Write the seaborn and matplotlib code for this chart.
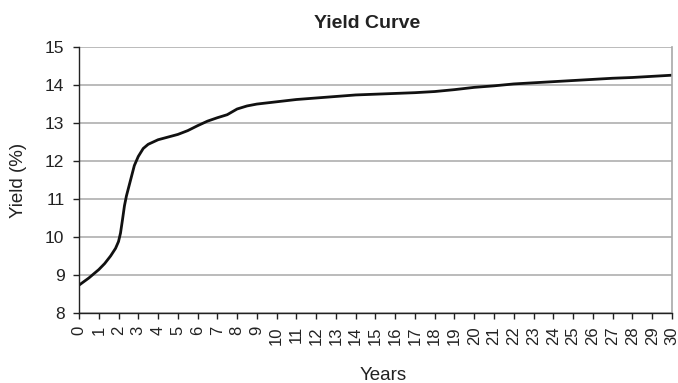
import matplotlib.pyplot as plt
import pandas as pd
import seaborn as sns

# yield curve (years -> yield %)
years = [0, 0.5, 1, 1.3, 1.6, 1.85, 2.0, 2.1, 2.2, 2.3, 2.4, 2.5, 2.65, 2.8,
         3.0, 3.25, 3.5, 4, 4.5, 5, 5.5, 6, 6.5, 7, 7.5, 8, 8.5, 9, 10, 11,
         12, 13, 14, 15, 16, 17, 18, 19, 20, 21, 22, 23, 24, 25, 26, 27, 28,
         29, 30]
yields = [8.73, 8.92, 9.14, 9.3, 9.5, 9.7, 9.88, 10.1, 10.45, 10.82, 11.08,
          11.28, 11.58, 11.88, 12.12, 12.33, 12.44, 12.56, 12.63, 12.7, 12.8,
          12.93, 13.05, 13.14, 13.22, 13.37, 13.45, 13.5, 13.56, 13.62, 13.66,
          13.7, 13.74, 13.76, 13.78, 13.8, 13.83, 13.88, 13.94, 13.98, 14.03,
          14.06, 14.09, 14.12, 14.15, 14.18, 14.2, 14.23, 14.26]
year_ticks = list(range(0, 31))
yield_ticks = list(range(8, 16))

df = pd.DataFrame({"Years": years, "Yield": yields})

sns.set_theme(style="white")
plt.rcParams['font.family'] = ['Liberation Sans', 'DejaVu Sans']

fig = plt.figure(figsize=(6.78, 3.83), dpi=100)
ax = fig.add_axes([0.1165, 0.183, 0.8745, 0.694])

ax.set_xlim(0, 30)
ax.set_ylim(8, 15)
ax.set_yticks(yield_ticks)
ax.set_xticks(year_ticks)
ax.set_xticklabels([str(t) for t in year_ticks], rotation=90)
ax.yaxis.grid(True, color="#a8a8a8", linewidth=1.1)
ax.set_axisbelow(True)

sns.lineplot(ax=ax, data=df, x="Years", y="Yield", color="#111111", linewidth=2)

for side in ("left", "bottom"):
    ax.spines[side].set_color("#222222")
    ax.spines[side].set_linewidth(1)
ax.spines["top"].set_visible(False)
ax.spines["right"].set_color("#a8a8a8")
ax.spines["right"].set_linewidth(1.2)

ax.tick_params(axis="both", direction="out", length=4.5, width=1, color="#222222",
               labelcolor="#222222")
ax.tick_params(axis="x", bottom=True, pad=5, labelsize=12)
ax.tick_params(axis="y", left=True, pad=6, labelsize=12.5)

ax.set_xlabel("Years", fontsize=13.5, color="#222222")
ax.xaxis.set_label_coords(0.513, -0.205)
ax.set_ylabel("Yield (%)", fontsize=13.5, color="#222222")
ax.yaxis.set_label_coords(-0.088, 0.5)
ax.set_title("Yield Curve", fontsize=14, fontweight="bold", color="#222222",
             pad=14, x=0.486)

fig.savefig("out.png", dpi=100)
plt.close(fig)
